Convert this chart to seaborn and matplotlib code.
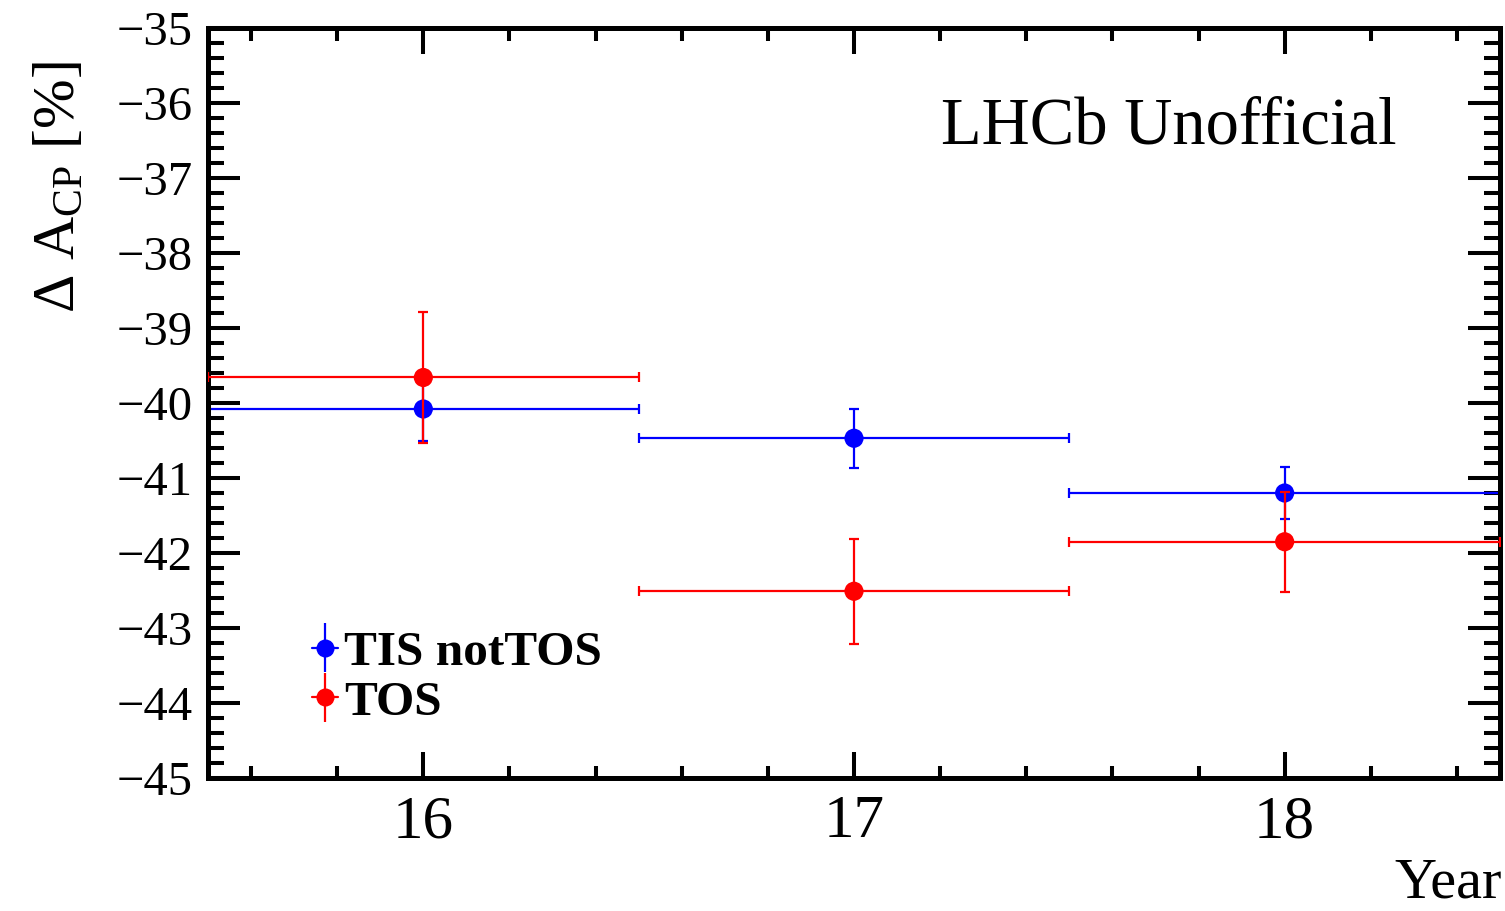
import matplotlib
matplotlib.use("Agg")
import matplotlib.pyplot as plt
from matplotlib.ticker import MultipleLocator
from matplotlib.legend_handler import HandlerTuple
import numpy as np
import pandas as pd
import seaborn as sns

# Delta A_CP per data-taking year, split by trigger category
years = [16, 17, 18]
tis_nottos_val = [-40.08, -40.47, -41.20]
tis_nottos_err = [0.42, 0.39, 0.35]
tos_val = [-39.66, -42.51, -41.85]
tos_err = [0.87, 0.70, 0.67]
year_halfwidth = [0.5, 0.5, 0.5]

series = [
    ("TIS notTOS", tis_nottos_val, tis_nottos_err, "#0000ff"),
    ("TOS", tos_val, tos_err, "#ff0000"),
]

rows = []
for name, vals, errs, _ in series:
    for yr, v, e, hw in zip(years, vals, errs, year_halfwidth):
        rows.append({"year": yr, "value": v, "err": e, "xerr": hw, "sample": name})
df = pd.DataFrame(rows)

sns.set_theme(style="ticks")
plt.rcParams["font.family"] = ["Liberation Serif", "DejaVu Serif"]
plt.rcParams["mathtext.fontset"] = "custom"
plt.rcParams["mathtext.rm"] = "Liberation Serif"
plt.rcParams["mathtext.it"] = "Liberation Serif:italic"
plt.rcParams["mathtext.bf"] = "Liberation Serif:bold"
for key in ("text.color", "axes.labelcolor", "xtick.color", "ytick.color",
            "axes.edgecolor"):
    plt.rcParams[key] = "black"

fig = plt.figure(figsize=(15.05, 9.11), dpi=100)
ax = fig.add_axes([208 / 1505, 1 - 778 / 911, (1500 - 208) / 1505, (778 - 28) / 911])

handles = []
for i, (name, _, _, col) in enumerate(series):
    sub = df[df["sample"] == name]
    ax.errorbar(sub["year"], sub["value"], yerr=sub["err"], xerr=sub["xerr"],
                fmt="none", ecolor=col, elinewidth=1.6, capsize=3.4,
                capthick=1.6, zorder=2 + 2 * i)
    sns.scatterplot(data=sub, x="year", y="value", color=col, s=190,
                    edgecolor="none", linewidth=0, ax=ax, legend=False,
                    zorder=3 + 2 * i)
    # legend key: short horizontal bar, capped vertical bar and marker
    key_v = ax.errorbar([], [], yerr=[], fmt="none", ecolor=col,
                        elinewidth=1.6, capsize=3.4, capthick=1.6)
    key_h = plt.Line2D([], [], color=col, linewidth=1.6)
    key_m = plt.Line2D([], [], marker="o", color=col, linestyle="none",
                       markersize=13, markeredgewidth=0)
    handles.append((key_h, key_v, key_m))

ax.set_xlim(15.5, 18.5)
ax.set_ylim(-45, -35)
ax.xaxis.set_minor_locator(MultipleLocator(0.2))
ax.yaxis.set_major_locator(MultipleLocator(1))
ax.yaxis.set_minor_locator(MultipleLocator(0.2))
ax.set_xticks(years)
ax.set_xticklabels([str(y) for y in years])
ax.yaxis.set_major_formatter(plt.FuncFormatter(lambda v, p: f"\u2212{abs(int(round(v)))}"))

for side in ax.spines.values():
    side.set_linewidth(3.6)
    side.set_color("black")

ax.tick_params(axis="both", which="both", direction="in", top=True, right=True,
               width=2.9, color="black", labelcolor="black")
ax.tick_params(axis="y", which="major", length=23, labelsize=35, pad=11)
ax.tick_params(axis="y", which="minor", length=11.5)
ax.tick_params(axis="x", which="major", length=19, labelsize=44, pad=12)
ax.tick_params(axis="x", which="minor", length=9)
ax.set_xlabel("")
ax.set_ylabel("")
ax.grid(False)

fig.text(60 / 1505, 1 - 187 / 911, "\u0394 A$_{\\mathrm{CP}}$ [$\\mathit{\\%}$]",
         rotation=90, ha="center", va="center", fontsize=43, color="black")
fig.text(1502 / 1505, 1 - 897 / 911, "Year", ha="right", va="baseline",
         fontsize=42, color="black")
fig.text(941 / 1505, 1 - 143 / 911, "LHCb Unofficial", ha="left", va="baseline",
         fontsize=48, color="black")

ax.legend(handles, [s[0] for s in series], loc="lower left",
          bbox_to_anchor=(0.065, 0.045), frameon=False,
          prop={"weight": "bold", "size": 35.5}, handlelength=0.53,
          handletextpad=0.12, labelspacing=0.1, borderaxespad=0,
          handler_map={tuple: HandlerTuple(ndivide=1, pad=0)})

fig.savefig("out.png", dpi=100, facecolor="white")
